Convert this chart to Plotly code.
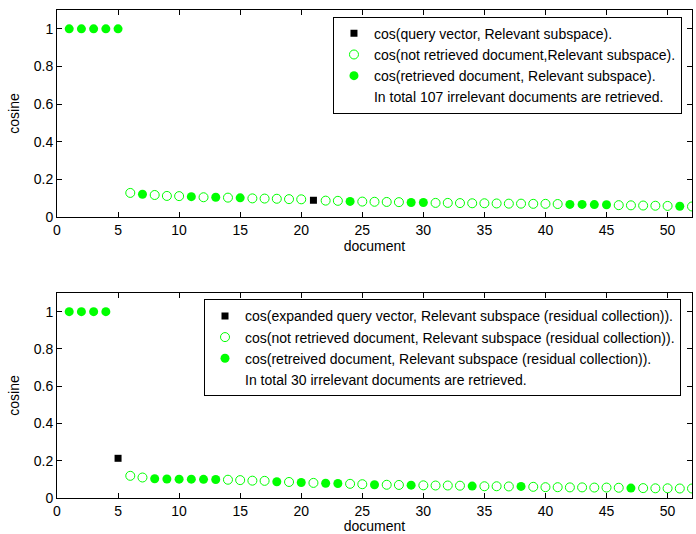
import plotly.graph_objects as go

# ---------------- data ----------------
docs = list(range(1, 53))

top_values = [1, 1, 1, 1, 1,
              0.128, 0.121, 0.117, 0.112, 0.111, 0.108, 0.105, 0.105, 0.103, 0.102,
              0.099, 0.098, 0.097, 0.095, 0.094, 0.089, 0.087, 0.086, 0.083, 0.082,
              0.081, 0.080, 0.079, 0.077, 0.077, 0.075, 0.075, 0.074, 0.073, 0.073,
              0.072, 0.071, 0.071, 0.070, 0.070, 0.069, 0.067, 0.067, 0.066, 0.065,
              0.063, 0.062, 0.061, 0.060, 0.059, 0.057, 0.056]
top_query_pos = 21
top_retrieved = [1, 2, 3, 4, 5, 7, 11, 13, 15, 24, 29, 30, 42, 43, 44, 45, 51]

bot_values = [1, 1, 1, 1,
              0.213, 0.119, 0.110, 0.103, 0.102, 0.101, 0.101, 0.100, 0.099, 0.098,
              0.096, 0.093, 0.092, 0.087, 0.086, 0.083, 0.081, 0.079, 0.078, 0.076,
              0.074, 0.071, 0.071, 0.070, 0.069, 0.068, 0.067, 0.067, 0.066, 0.064,
              0.063, 0.063, 0.062, 0.062, 0.060, 0.058, 0.058, 0.057, 0.057, 0.056,
              0.056, 0.055, 0.053, 0.053, 0.052, 0.052, 0.051, 0.051]
bot_query_pos = 5
bot_retrieved = [1, 2, 3, 4, 8, 9, 10, 11, 12, 13, 18, 20, 22, 23, 26, 29, 34, 38, 47]

top_labels = ["cos(query vector, Relevant subspace).",
              "cos(not retrieved document,Relevant subspace).",
              "cos(retrieved document, Relevant subspace).",
              "In total 107 irrelevant documents are retrieved."]
bot_labels = ["cos(expanded query vector, Relevant subspace (residual collection)).",
              "cos(not retrieved document, Relevant subspace (residual collection)).",
              "cos(retreived document, Relevant subspace (residual collection)).",
              "In total 30 irrelevant documents are retrieved."]

x_ticks = [0, 5, 10, 15, 20, 25, 30, 35, 40, 45, 50]
y_ticks = [0, 0.2, 0.4, 0.6, 0.8, 1]

GREEN = "#00ff00"
FONT = "Liberation Sans, Arial, sans-serif"
FS = 14

fig = go.Figure()


def add_panel(values, query_pos, retrieved, labels, xa, ya, legend):
    qx, qy, ox, oy, fx, fy = [], [], [], [], [], []
    for d, v in zip(docs, values):
        if d == query_pos:
            qx.append(d); qy.append(v)
        elif d in retrieved:
            fx.append(d); fy.append(v)
        else:
            ox.append(d); oy.append(v)
    fig.add_trace(go.Scatter(x=ox, y=oy, mode="markers", name=labels[1],
                             marker=dict(symbol="circle-open", size=9, color=GREEN,
                                         line=dict(width=1, color=GREEN)),
                             xaxis=xa, yaxis=ya, legend=legend, legendrank=2))
    fig.add_trace(go.Scatter(x=fx, y=fy, mode="markers", name=labels[2],
                             marker=dict(symbol="circle", size=9, color=GREEN),
                             xaxis=xa, yaxis=ya, legend=legend, legendrank=3))
    fig.add_trace(go.Scatter(x=qx, y=qy, mode="markers", name=labels[0],
                             marker=dict(symbol="square", size=7, color="black"),
                             xaxis=xa, yaxis=ya, legend=legend, legendrank=1))
    fig.add_trace(go.Scatter(x=[None], y=[None], mode="markers", name=labels[3],
                             marker=dict(size=1, color="rgba(0,0,0,0)"),
                             xaxis=xa, yaxis=ya, legend=legend, legendrank=4))


add_panel(top_values, top_query_pos, top_retrieved, top_labels, "x", "y", "legend")
add_panel(bot_values, bot_query_pos, bot_retrieved, bot_labels, "x2", "y2", "legend2")

axis_common = dict(showline=True, linecolor="black", linewidth=1, mirror="ticks",
                   ticks="inside", ticklen=5, tickwidth=1, tickcolor="black",
                   showgrid=False, zeroline=False, automargin=False,
                   tickfont=dict(family=FONT, size=FS, color="black"))

xa = dict(axis_common, range=[0, 52], tickvals=x_ticks,
          title=dict(text="document", font=dict(family=FONT, size=FS, color="black"), standoff=1))
ya = dict(axis_common, range=[0, 1.1], tickvals=y_ticks,
          title=dict(text="cosine", font=dict(family=FONT, size=FS, color="black"), standoff=10))

legend_common = dict(bgcolor="white", bordercolor="black", borderwidth=1,
                     font=dict(family=FONT, size=FS, color="black"),
                     xanchor="left", yanchor="top", tracegroupgap=0,
                     itemclick=False)

fig.update_layout(
    width=696, height=534,
    margin=dict(l=57, r=4, t=10, b=36, autoexpand=False),
    plot_bgcolor="white", paper_bgcolor="white",
    font=dict(family=FONT, size=FS, color="black"),
    xaxis=dict(xa, domain=[0, 1], anchor="y"),
    yaxis=dict(ya, domain=[0.5758, 1], anchor="x"),
    xaxis2=dict(xa, domain=[0, 1], anchor="y2"),
    yaxis2=dict(ya, domain=[0, 0.4201], anchor="x2"),
    legend=dict(legend_common, x=0.4346, y=0.9863),
    legend2=dict(legend_common, x=0.2315, y=0.4072),
)

fig.write_html("out.html")
